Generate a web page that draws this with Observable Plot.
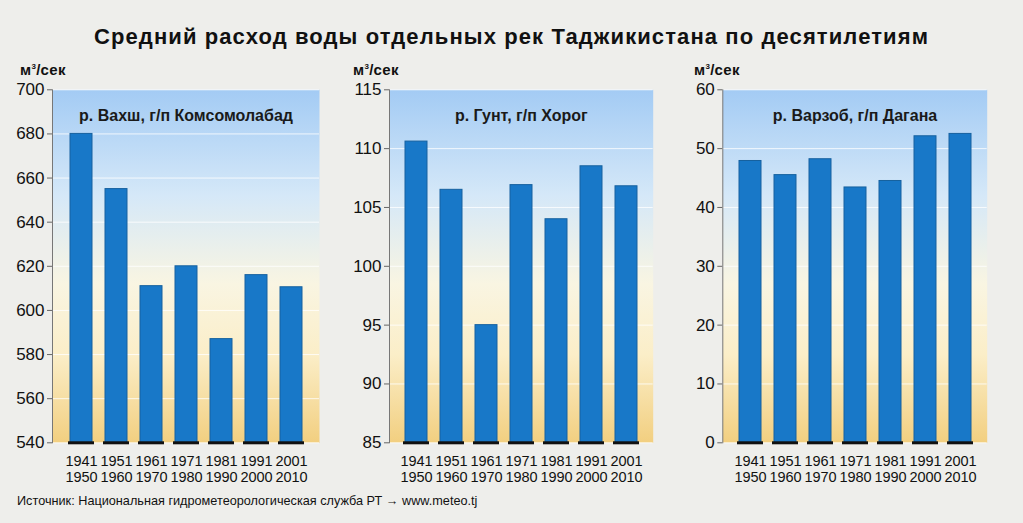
<!DOCTYPE html>
<html><head><meta charset="utf-8">
<script src="https://cdn.jsdelivr.net/npm/d3@7"></script>
<script src="https://cdn.jsdelivr.net/npm/@observablehq/plot@0.6"></script>
<style>
body{margin:0;background:#eeeeeb;font-family:"Liberation Sans",Arial,sans-serif;color:#111;}
#wrap{position:relative;width:1023px;height:523px;overflow:hidden;background:#eeeeeb;}
.title{position:absolute;left:0;width:1023px;top:24px;text-align:center;font-weight:bold;font-size:22px;letter-spacing:1.1px;line-height:26px;}
.unit{position:absolute;top:58px;font-weight:bold;font-size:15px;letter-spacing:0.3px;line-height:18px;}
.unit sup{font-size:8px;vertical-align:6px;}
.foot{position:absolute;left:17px;top:494px;font-size:12.7px;line-height:15px;color:#111;}
.panel{position:absolute;top:75px;}
.panel text.ptitle{letter-spacing:0.3px;}
</style></head>
<body><div id="wrap">
<div class="title">Средний расход воды отдельных рек Таджикистана по десятилетиям</div>
<div class="unit" style="left:20px">м<sup>3</sup>/сек</div>
<div class="unit" style="left:353px">м<sup>3</sup>/сек</div>
<div class="unit" style="left:694px">м<sup>3</sup>/сек</div>
<div class="foot">Источник: Национальная гидрометеорологическая служба РТ → www.meteo.tj</div>
</div>
<script>
const decades = ["1941\n1950","1951\n1960","1961\n1970","1971\n1980","1981\n1990","1991\n2000","2001\n2010"];
const vakhsh = [680, 655, 611, 620, 587, 616, 610.5];
const gunt = [110.6, 106.5, 95.0, 106.9, 104.0, 108.5, 106.8];
const varzob = [47.9, 45.5, 48.2, 43.4, 44.5, 52.1, 52.5];
const vakhshTicks = [540, 560, 580, 600, 620, 640, 660, 680, 700];
const guntTicks = [85, 90, 95, 100, 105, 110, 115];
const varzobTicks = [0, 10, 20, 30, 40, 50, 60];
const panelTitles = ["р. Вахш, г/п Комсомолабад", "р. Гунт, г/п Хорог", "р. Варзоб, г/п Дагана"];

const wrap = document.getElementById("wrap");

function panel(values, ticks, title, id, left, width, mL, mR) {
  const data = decades.map((d, i) => ({decade: d, value: values[i]}));
  const lo = ticks[0], hi = ticks[ticks.length - 1];
  const defs = () => {
    const d = d3.create("svg:defs");
    const g = d.append("linearGradient").attr("id", id).attr("x1", 0).attr("y1", 0).attr("x2", 0).attr("y2", 1);
    [[0, "#a3cbf4"], [0.3, "#d5e8f8"], [0.55, "#f9f5e2"], [0.75, "#fbeec8"], [1, "#f2cf80"]].forEach(([o, c]) =>
      g.append("stop").attr("offset", o).attr("stop-color", c));
    return d.node();
  };
  const chart = Plot.plot({
    width, height: 420,
    marginTop: 14.3, marginBottom: 52.7, marginLeft: mL, marginRight: mR,
    style: {background: "transparent", fontFamily: "'Liberation Sans', Arial, sans-serif", color: "#111", overflow: "visible"},
    x: {domain: decades, paddingInner: 0.384, paddingOuter: 0.43, axis: null},
    y: {domain: [lo, hi], axis: null},
    marks: [
      defs,
      Plot.frame({fill: `url(#${id})`, stroke: null}),
      Plot.gridY(ticks, {stroke: "white", strokeOpacity: 0.8, strokeWidth: 1}),
      Plot.barY(data, {x: "decade", y1: lo, y2: "value", fill: "#1878c8", stroke: "#16619f", strokeWidth: 1}),
      Plot.tickY(data, {x: "decade", y: lo, stroke: "#111", strokeWidth: 3, insetLeft: -2, insetRight: -2}),
      Plot.axisY({ticks, tickSize: 5, tickPadding: 3, fontSize: 17, stroke: "#666", label: null}),
      Plot.axisX({tickSize: 0, tickPadding: 12, fontSize: 14.5, lineHeight: 1.08, label: null}),
      Plot.frame({anchor: "left", stroke: "#777"}),
      Plot.text([title], {frameAnchor: "top", dy: 20, fontWeight: "bold", fontSize: 16, fill: "#1a1a1a", className: "ptitle"})
    ]
  });
  const div = document.createElement("div");
  div.className = "panel";
  div.style.left = left + "px";
  div.appendChild(chart);
  wrap.appendChild(div);
}

panel(vakhsh, vakhshTicks, panelTitles[0], "g1", 0, 340, 52, 21);
panel(gunt, guntTicks, panelTitles[1], "g2", 340, 340, 49, 27.3);
panel(varzob, varzobTicks, panelTitles[2], "g3", 680, 343, 42.3, 36.3);
</script>
</body></html>
